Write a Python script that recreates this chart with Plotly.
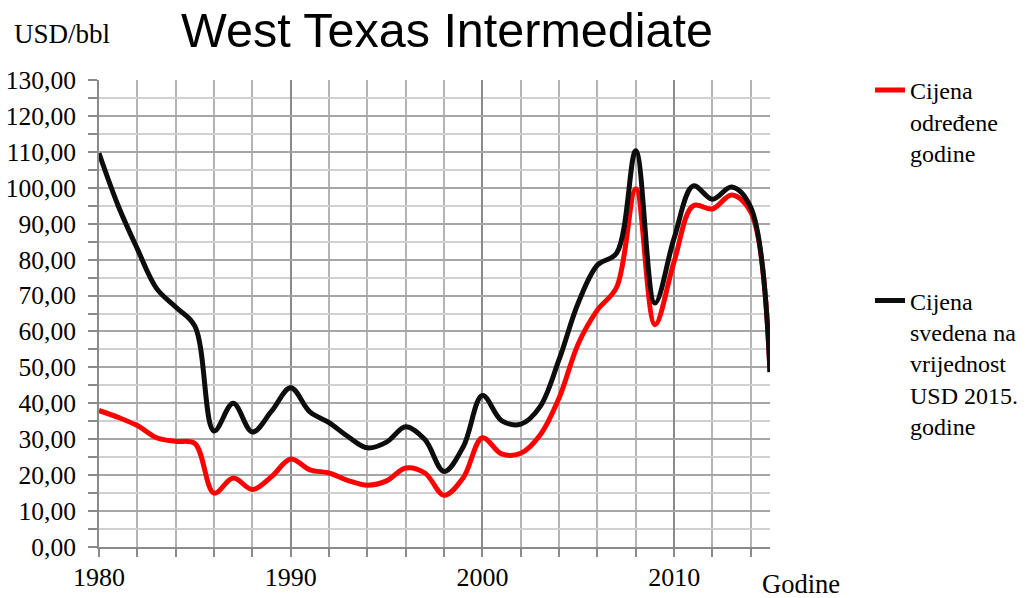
import plotly.graph_objects as go

years = list(range(1980, 2016))
nominal = [38.0, 36.1, 33.8, 30.4, 29.4, 28.8, 15.0, 19.2, 16.0, 19.6,
           24.5, 21.5, 20.6, 18.5, 17.2, 18.4, 22.0, 20.6, 14.4, 19.3,
           30.4, 25.9, 26.1, 31.1, 41.5, 56.6, 66.0, 72.3, 99.7, 61.9,
           79.5, 95.0, 94.1, 98.0, 93.2, 48.7]
real2015 = [109.6, 95.0, 83.0, 72.0, 66.8, 61.5, 32.3, 40.0, 32.0, 37.8,
            44.3, 37.6, 34.6, 30.7, 27.6, 29.2, 33.5, 29.9, 21.0, 27.9,
            42.2, 35.2, 34.2, 39.0, 52.2, 68.0, 78.5, 81.8, 110.3, 67.9,
            86.0, 100.5, 96.8, 100.2, 94.5, 48.7]
name_nominal = "Cijena<br>određene<br>godine"
name_real = "Cijena<br>svedena na<br>vrijednost<br>USD 2015.<br>godine"
x_ticks = [1980, 1990, 2000, 2010]
y_ticks = list(range(0, 131, 10))
y_labels = [f"{v},00" for v in y_ticks]

SERIF = "Liberation Serif, Times New Roman, serif"
SANS = "Liberation Sans, Arial, sans-serif"

fig = go.Figure()
fig.add_trace(go.Scatter(x=years, y=nominal, mode="lines", name=name_nominal,
                         legendgroup="a",
                         line=dict(color="#ff0000", width=5, shape="spline", smoothing=1)))
fig.add_trace(go.Scatter(x=years, y=real2015, mode="lines", name=name_real,
                         legendgroup="b",
                         line=dict(color="#0d0d0d", width=5, shape="spline", smoothing=1)))

fig.update_layout(
    width=1031, height=598,
    margin=dict(l=99, r=261, t=80, b=51, autoexpand=False),
    paper_bgcolor="white", plot_bgcolor="white",
    title=dict(text="West Texas Intermediate", x=447 / 1031, xanchor="center",
               y=1 - 30 / 598, yanchor="middle", yref="container",
               font=dict(family=SANS, size=48.5, color="black")),
    showlegend=True,
    legend=dict(x=1.149, xanchor="left", y=1.026, yanchor="top",
                valign="top", tracegroupgap=114, traceorder="grouped",
                maxheight=520,
                font=dict(family=SERIF, size=24, color="black"),
                bgcolor="rgba(0,0,0,0)"),
    xaxis=dict(range=[1980, 2015], tickmode="array", tickvals=x_ticks,
               ticktext=[str(v) for v in x_ticks], automargin=False,
               showgrid=True, gridcolor="#8a8a8a", gridwidth=1.5,
               showline=True, linecolor="#8a8a8a", linewidth=2,
               ticks="outside", ticklen=8, tickcolor="#8a8a8a", tickwidth=2,
               ticklabelstandoff=-2,
               minor=dict(dtick=2, tick0=1980, showgrid=True, gridcolor="#b4b4b4",
                          gridwidth=1.5, ticks="outside", ticklen=8,
                          tickcolor="#8a8a8a", tickwidth=2),
               tickfont=dict(family=SERIF, size=26, color="black"),
               zeroline=False, fixedrange=True),
    yaxis=dict(range=[0, 130], tickmode="array", tickvals=y_ticks, ticktext=y_labels,
               automargin=False,
               showgrid=True, gridcolor="#a6a6a6", gridwidth=1.5,
               showline=True, linecolor="#8a8a8a", linewidth=2,
               ticks="outside", ticklen=9, tickcolor="#8a8a8a", tickwidth=2,
               ticklabelstandoff=7,
               minor=dict(dtick=5, tick0=0, showgrid=True, gridcolor="#d0d0d0",
                          gridwidth=1.5, ticks="outside", ticklen=9,
                          tickcolor="#8a8a8a", tickwidth=2),
               tickfont=dict(family=SERIF, size=25.5, color="black"),
               zeroline=False, fixedrange=True),
    annotations=[
        dict(text="USD/bbl", xref="paper", yref="paper", x=-0.0551, y=1.0985,
             xanchor="center", yanchor="middle", showarrow=False,
             font=dict(family=SERIF, size=27, color="black")),
        dict(text="Godine", xref="paper", yref="paper", x=1.0462, y=-0.0792,
             xanchor="center", yanchor="middle", showarrow=False,
             font=dict(family=SERIF, size=26.5, color="black")),
    ],
)

# remove the page's default 8px body margin so figure pixels = window pixels
fig.write_html("out.html",
               config={"displayModeBar": False},
               post_script="document.body.style.margin='0px';document.body.style.padding='0px';")
